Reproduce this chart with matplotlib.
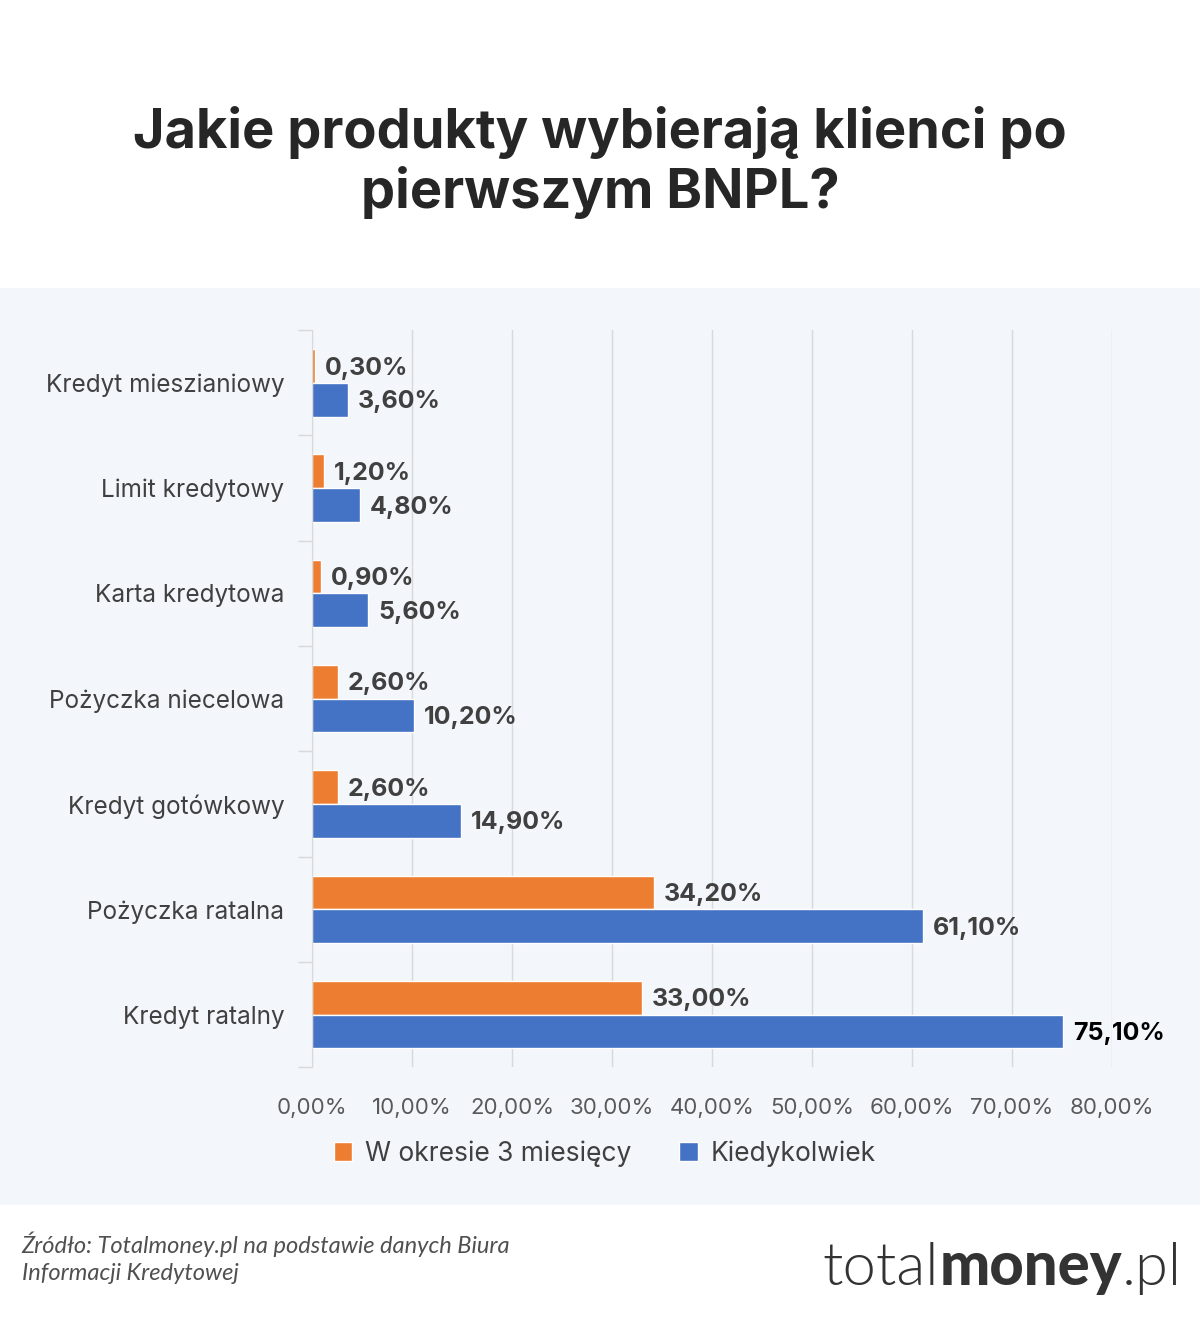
import matplotlib.pyplot as plt
from matplotlib.patches import Rectangle
import numpy as np

# data, top to bottom as in the chart
categories = ["Kredyt mieszianiowy", "Limit kredytowy", "Karta kredytowa",
              "Pożyczka niecelowa", "Kredyt gotówkowy", "Pożyczka ratalna",
              "Kredyt ratalny"]
last_3_months = [0.3, 1.2, 0.9, 2.6, 2.6, 34.2, 33.0]
ever = [3.6, 4.8, 5.6, 10.2, 14.9, 61.1, 75.1]
x_ticks = [0, 10, 20, 30, 40, 50, 60, 70, 80]

ORANGE = "#ed7d31"
BLUE = "#4472c4"
PANEL = "#f3f6fa"
DARK = "#404040"
GRID = "#d9d9d9"


def pct(v, decimals=2):
    return f"{v:.{decimals}f}".replace(".", ",") + "%"


fig = plt.figure(figsize=(12, 13.34), dpi=100)
fig.patch.set_facecolor("white")

# light panel behind the chart
fig.patches.append(Rectangle((0, 0.0967), 1, 0.6874, transform=fig.transFigure,
                             facecolor=PANEL, edgecolor="none", zorder=-5))

fig.text(0.5, 0.878, "Jakie produkty wybierają klienci po\npierwszym BNPL?",
         ha="center", va="center", fontsize=39, fontweight="bold",
         color="#262626", family="Inter", linespacing=1.17)

ax = fig.add_axes([0.26, 0.2, 0.6667, 0.5525])
ax.set_facecolor(PANEL)

y = np.arange(len(categories))
h = 0.32
ax.barh(y - h / 2, last_3_months, height=h, color=ORANGE, edgecolor="white",
        linewidth=1, label="W okresie 3 miesięcy", zorder=3)
ax.barh(y + h / 2, ever, height=h, color=BLUE, edgecolor="white",
        linewidth=1, label="Kiedykolwiek", zorder=3)

for i in range(len(categories)):
    ax.text(last_3_months[i] + 1.0, y[i] - h / 2 + 0.02, pct(last_3_months[i]),
            va="center", ha="left", fontsize=18, fontweight="bold",
            color=DARK, family="Inter", zorder=4)
    col = "black" if i == len(categories) - 1 else DARK
    ax.text(ever[i] + 1.0, y[i] + h / 2 + 0.02, pct(ever[i]),
            va="center", ha="left", fontsize=18, fontweight="bold",
            color=col, family="Inter", zorder=4)

ax.set_xlim(0, 80)
ax.set_ylim(len(categories) - 0.5, -0.5)
ax.set_xticks(x_ticks)
ax.set_xticklabels([pct(v) for v in x_ticks], fontsize=16, color="#595959",
                   family="Inter")
ax.tick_params(axis="x", length=0, pad=22)

ax.set_yticks(y)
ax.set_yticklabels(categories, fontsize=17.5, color=DARK, family="Inter")
ax.tick_params(axis="y", which="major", length=0, pad=20)
ax.set_yticks(np.arange(-0.5, len(categories)), minor=True)
ax.tick_params(axis="y", which="minor", length=10, color=GRID, width=1)

ax.grid(axis="x", color=GRID, linewidth=1, zorder=0)
for s in ["top", "right", "bottom"]:
    ax.spines[s].set_visible(False)
ax.spines["left"].set_color(GRID)
ax.spines["left"].set_zorder(5)

leg = ax.legend(loc="center", bbox_to_anchor=(0.366, -0.117), ncol=2,
                frameon=False, handlelength=0.7, handleheight=0.7,
                columnspacing=1.8, handletextpad=0.5,
                prop={"family": "Inter", "size": 19})
for t in leg.get_texts():
    t.set_color(DARK)

# footer
fig.text(0.018, 0.057, "Źródło: Totalmoney.pl na podstawie danych Biura\nInformacji Kredytowej",
         ha="left", va="center", fontsize=17, style="italic", color="#505050",
         family="Lato", linespacing=1.35)

# logo built from three pieces
renderer = fig.canvas.get_renderer()
x_right = 0.985
y_logo = 0.037
parts = [(".pl", 300), ("money", 900), ("total", 300)]
for txt, w in parts:
    t = fig.text(x_right, y_logo, txt, ha="right", va="baseline", fontsize=43,
                 fontweight=w, color="#333333", family="Lato")
    bb = t.get_window_extent(renderer=renderer)
    x_right -= bb.width / fig.bbox.width

fig.savefig("out.png", dpi=100, facecolor="white")
